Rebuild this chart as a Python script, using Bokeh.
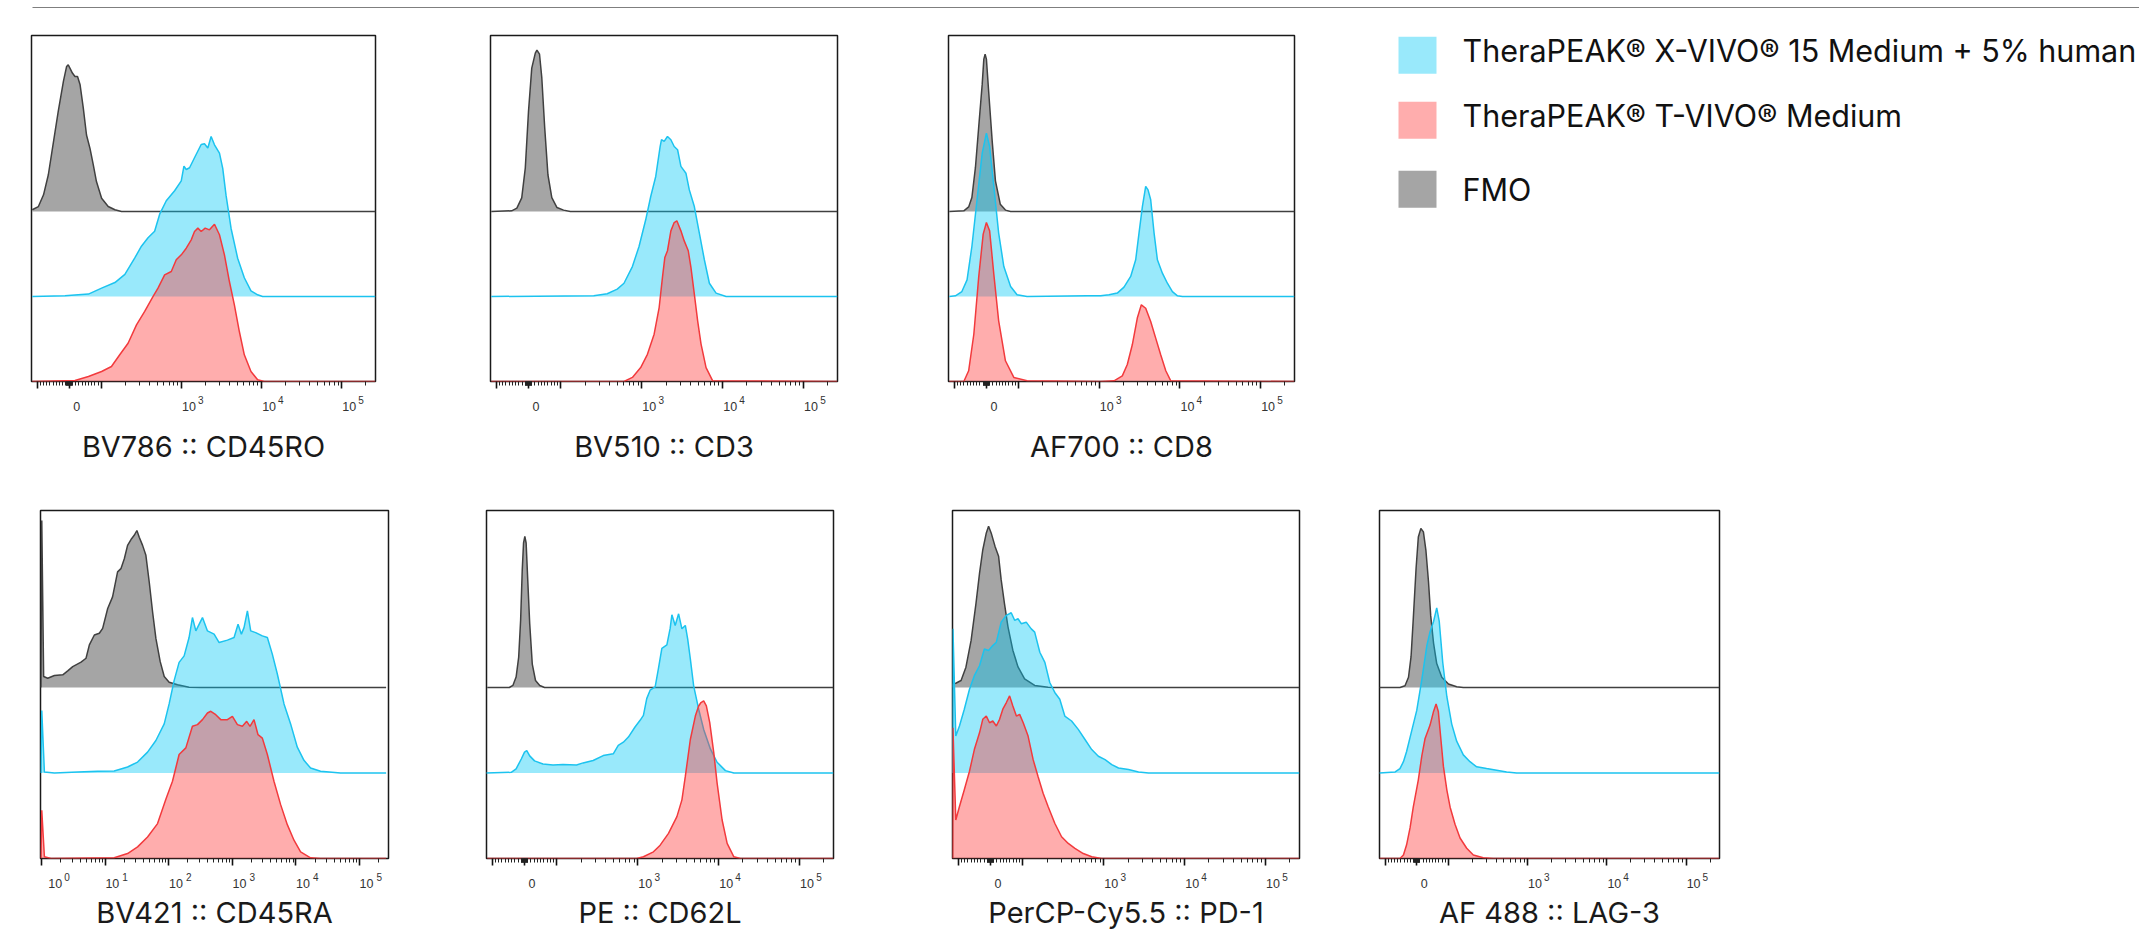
import math
from bokeh.plotting import figure
from bokeh.models import Range1d, LinearAxis, LogAxis, FixedTicker, Spacer, ColumnDataSource
from bokeh.layouts import row, column
from bokeh.embed import file_html
from bokeh.resources import INLINE
from bokeh.core.properties import value

# ---------------------------------------------------------------- data
SERIES_NAMES = ["TheraPEAK® X-VIVO® 15 Medium + 5% human", "TheraPEAK® T-VIVO® Medium", "FMO"]

# BV786 :: CD45RO  (x = fluorescence intensity, y = % of mode)
CD45RO_FMO_X = [-115, -96, -80, -65, -49, -34, -18, -8, -3, 5, 10, 18, 26, 34, 44, 54, 65, 75, 85, 101, 122, 148, 179, 262143]
CD45RO_FMO_Y = [1, 2.9, 9.8, 21.6, 41, 59, 76.5, 85.3, 86.3, 83.3, 81.4, 79.4, 79.4, 74.5, 60.8, 45, 37, 27.5, 17.6, 7.8, 2.9, 1, 0, 0]
CD45RO_XV_X = [-115, -13, 28, 60, 101, 148, 197, 262, 317, 383, 463, 535, 647, 822, 995, 1074, 1148, 1262, 1455, 1762, 1936, 2133, 2344, 2582, 2979, 3273, 3597, 4159, 5023, 6081, 7362, 8913, 10280, 262143]
CD45RO_XV_Y = [0, 0.4, 1, 1.4, 4.9, 8.2, 13, 22.7, 29.6, 34.5, 38.4, 48.4, 56.3, 62.2, 68, 76.7, 74.7, 75.7, 81.6, 89.4, 89.8, 87.3, 94.1, 89.2, 84.3, 75.3, 59.6, 40, 22.5, 11, 3.3, 1, 0, 0]
CD45RO_TV_X = [-115, 18, 60, 101, 134, 170, 216, 275, 348, 443, 510, 617, 747, 861, 995, 1148, 1324, 1455, 1603, 1762, 1977, 2234, 2582, 2979, 3436, 3963, 4571, 5272, 6081, 7362, 8913, 10790, 262143]
CD45RO_TV_Y = [0, 0.6, 2.9, 5.9, 8.8, 15.7, 22.5, 33.3, 41.2, 50, 54.9, 62.7, 64.7, 71.6, 74.5, 78.4, 83.3, 88.2, 90.2, 88.2, 90.2, 89.2, 92.5, 86.3, 74.5, 58.8, 45.1, 29.4, 15.7, 5.9, 1, 0, 0]

# BV510 :: CD3
CD3_FMO_X = [-115, -52, -36, -21, -10, 0, 10, 21, 26, 34, 41, 50, 60, 72, 88, 108, 131, 262143]
CD3_FMO_Y = [0, 0.4, 2, 8, 25.5, 59, 84.3, 93.1, 94.9, 92.5, 78.8, 49.4, 21.6, 8.2, 2.3, 0.8, 0, 0]
CD3_XV_X = [-115, 255, 374, 498, 603, 766, 925, 1119, 1291, 1489, 1687, 1754, 1892, 2080, 2291, 2518, 2773, 3048, 3516, 3873, 4467, 5152, 5943, 6855, 8299, 11040, 262143]
CD3_XV_Y = [0, 0.4, 1.6, 4.3, 7.8, 17.6, 29.4, 45.1, 58.8, 70.6, 88.2, 92.2, 91.2, 94.1, 92.2, 88.2, 86.3, 76.5, 72.5, 62.7, 52.9, 37.3, 21.6, 7.8, 2, 0, 0]
CD3_TV_X = [-115, 603, 766, 970, 1175, 1422, 1641, 1803, 1928, 2080, 2291, 2518, 2716, 3048, 3350, 3758, 4055, 4467, 4909, 5408, 6237, 7534, 262143]
CD3_TV_Y = [0, 0, 2.4, 8.2, 16, 27.8, 43.5, 61.2, 72.9, 76.9, 88.6, 93.5, 94.5, 88.6, 82.7, 76.9, 67.1, 51.4, 35.7, 22, 8.2, 0.4, 0]

# AF700 :: CD8
CD8_FMO_X = [-115, -70, -55, -45, -34, -24, -13, -8, -4, 0, 7, 18, 28, 43, 59, 75, 262143]
CD8_FMO_Y = [0, 0.4, 2.7, 8.2, 25.9, 49.4, 74.9, 89.6, 92.5, 89.6, 70.6, 41.2, 18, 4.3, 0.8, 0, 0]
CD8_XV_X = [-115, -96, -76, -60, -45, -29, -13, 0, 10, 23, 38, 54, 75, 95, 127, 708, 1038, 1318, 1671, 2023, 2449, 2825, 3105, 3420, 3758, 4018, 4335, 4775, 5248, 6053, 6982, 8054, 9311, 10740, 262143]
CD8_XV_Y = [0, 0.4, 2.9, 9.8, 29.4, 56.9, 84.3, 96.1, 88.2, 64.7, 37.3, 17.6, 5.9, 1, 0, 0.4, 0.4, 1, 2, 5.5, 11.8, 21.6, 37.3, 52.9, 64.7, 62.7, 56.9, 37.3, 21.6, 13.7, 7.8, 2.9, 0.4, 0, 0]
CD8_TV_X = [-115, -70, -55, -39, -24, -10, 0, 10, 23, 38, 59, 85, 127, 1038, 1521, 1928, 2223, 2564, 2958, 3319, 3758, 4335, 5000, 5768, 6668, 7691, 262143]
CD8_TV_Y = [0, 0, 6.3, 27.8, 61.2, 86.7, 93.5, 88.6, 63.1, 35.7, 12.2, 2.4, 0.4, 0, 0.4, 3.3, 10, 21.6, 37.3, 45.1, 43.1, 35.3, 25.5, 15.7, 6.3, 0.4, 0]

# BV421 :: CD45RA  (log axis)
CD45RA_FMO_X = [0.97, 1.0, 1.07, 1.24, 1.58, 2.14, 2.56, 3.07, 4.15, 4.97, 5.61, 6.72, 8.05, 9.08, 10.9, 13.0, 15.6, 17.6, 19.9, 22.4, 25.9, 28.5, 31.4, 34.2, 38.6, 43.5, 49.1, 55.4, 62.5, 73.1, 84.5, 101, 137, 208, 318, 262143]
CD45RA_FMO_Y = [0, 97.7, 6.4, 5.4, 7, 7.4, 9.7, 12.2, 14.8, 17.1, 24.9, 30.7, 31.7, 34.6, 46.2, 53, 67.6, 69.5, 75.3, 83.1, 87, 89, 91.8, 87.9, 83.1, 77.3, 61.7, 44.3, 28.7, 15.1, 6.4, 3.1, 1.6, 0.2, 0, 0]
CD45RA_XV_X = [0.97, 1.0, 1.10, 1.58, 3.68, 7.58, 13.8, 22.4, 32.2, 46.2, 62.5, 84.5, 101, 121, 145, 174, 208, 235, 266, 299, 338, 405, 515, 618, 834, 1062, 1227, 1384, 1524, 1722, 1941, 2323, 2958, 3548, 4246, 5093, 6486, 8241, 10500, 13360, 16980, 24380, 50350, 262143]
CD45RA_XV_Y = [0, 36.5, 0.6, 0, 0.6, 1, 1.2, 3.5, 6.4, 12.2, 19, 28.7, 40.4, 54, 64.7, 68.5, 79.2, 90.9, 83.1, 86.9, 90.9, 83.1, 81.2, 76.3, 77.7, 79.2, 87, 81.2, 85, 94.8, 83.1, 82.1, 80.2, 79.2, 69.5, 57.9, 40.4, 28.7, 15.1, 7.4, 2.9, 1, 0, 0]
CD45RA_TV_X = [0.97, 1.0, 1.10, 1.40, 13.8, 22.4, 32.2, 46.2, 66.4, 89.7, 114, 145, 185, 235, 282, 338, 405, 457, 547, 656, 834, 1000, 1199, 1436, 1679, 1892, 2188, 2529, 2958, 3548, 4508, 5741, 7311, 9311, 11830, 16980, 24380, 262143]
CD45RA_TV_Y = [0, 28.2, 1, 0, 0.4, 2.9, 6.8, 12.6, 20.4, 34.6, 45.2, 60.8, 64.7, 77.3, 78.3, 81.2, 85.1, 86.1, 84.1, 81.2, 81.2, 83.1, 78.3, 77.3, 80.2, 77.3, 81.2, 72.4, 70.4, 60.8, 45.2, 31.5, 19.8, 10.7, 3.9, 0.4, 0, 0]

# PE :: CD62L
CD62L_FMO_X = [-115, -47, -36, -26, -18, -12, -7, -3, 1, 5, 10, 16, 24, 34, 47, 62, 262143]
CD62L_FMO_Y = [0, 0, 1.2, 6.1, 17.8, 39.4, 68.8, 84.5, 88.4, 84.5, 62.9, 37.5, 13.7, 4.1, 1.2, 0, 0]
CD62L_XV_X = [-119, -41, -26, -10, 0, 7, 16, 31, 57, 88, 119, 175, 211, 281, 374, 498, 574, 664, 766, 925, 1069, 1175, 1291, 1422, 1641, 1803, 1986, 2291, 2518, 2642, 2904, 3199, 3516, 3873, 4140, 4467, 4909, 5662, 6531, 7907, 9572, 12130, 15420, 262143]
CD62L_XV_Y = [0, 0.4, 2.4, 8.2, 12.2, 13.1, 10, 7.1, 5.3, 4.7, 4.9, 4.7, 5.9, 7.3, 10.2, 11.2, 16.1, 18, 21, 26.9, 30.8, 33.7, 43.5, 48.4, 50.4, 61.2, 72.9, 74.9, 84.7, 92.5, 86.3, 93.1, 84.3, 86.3, 78.4, 66.7, 51, 37.3, 25.5, 14.1, 6.3, 1.4, 0, 0]
CD62L_TV_X = [-115, 970, 1175, 1563, 1892, 2399, 3048, 3516, 3873, 4467, 5152, 5662, 6053, 6531, 7047, 7762, 8710, 9572, 11040, 12740, 15420, 18660, 262143]
CD62L_TV_Y = [0, 0, 1, 3.9, 7.8, 14.7, 24.5, 34.3, 48, 69.6, 83.3, 89.2, 91.2, 92.2, 89.2, 79.4, 61.8, 44.1, 22.5, 8.8, 1, 0, 0]

# PerCP-Cy5.5 :: PD-1
PD1_FMO_X = [-117, -107, -91, -76, -60, -45, -34, -24, -13, -6, 2, 14, 25, 33, 43, 54, 69, 85, 105, 140, 205, 248, 262143]
PD1_FMO_Y = [2.2, 2.5, 4.1, 11.9, 27.5, 49, 66.7, 80.4, 90.4, 94.3, 90.4, 82.5, 76.7, 62.9, 49.2, 35.5, 21.8, 12, 5.1, 1.2, 0.2, 0, 0]
PD1_XV_X = [-117, -116, -107, -96, -81, -65, -50, -34, -19, -6, 7, 18, 33, 49, 64, 75, 85, 95, 110, 127, 140, 162, 187, 215, 248, 286, 330, 400, 484, 586, 710, 857, 1038, 1256, 1521, 2023, 2692, 3581, 262143]
PD1_XV_Y = [0, 84.3, 21.6, 27.5, 37.3, 49, 56.9, 62.7, 72.5, 71.6, 74.5, 76.5, 88.2, 92.2, 93.7, 89.2, 90.2, 87.3, 88.2, 84.3, 82.4, 70.6, 64.7, 52.9, 47.1, 43.1, 33.3, 30.4, 25.5, 19.6, 13.7, 9.8, 7.8, 4.9, 2.9, 2, 0.6, 0, 0]
PD1_TV_X = [-117, -116, -107, -96, -81, -65, -50, -34, -24, -13, -3, 7, 18, 28, 38, 49, 59, 69, 80, 90, 101, 116, 134, 154, 178, 205, 248, 301, 364, 440, 558, 710, 944, 262143]
PD1_TV_Y = [0, 76.5, 22.5, 30.4, 40.2, 51, 63.7, 73.5, 81.4, 83.3, 79.4, 80.4, 77.5, 81.4, 87.3, 91.2, 95.1, 89.2, 83.3, 84.3, 79.4, 71.6, 57.8, 48, 38.2, 30.4, 20.6, 12.7, 8.8, 5.9, 2.9, 1, 0, 0]

# AF 488 :: LAG-3
LAG3_FMO_X = [-118, -53, -37, -26, -18, -11, -2, 5, 13, 21, 29, 37, 44, 53, 63, 79, 100, 127, 154, 262143]
LAG3_FMO_Y = [0, 0, 1, 6, 18, 40, 70, 88, 93, 91, 80, 62, 42, 26, 14, 6, 2, 0.4, 0, 0]
LAG3_XV_X = [-118, -68, -53, -42, -32, -16, 0, 16, 32, 42, 53, 63, 71, 82, 95, 110, 127, 154, 187, 227, 303, 406, 542, 726, 262143]
LAG3_XV_Y = [0, 0.6, 2.6, 6.6, 12.6, 24.6, 36.6, 54.6, 74.6, 82.6, 88.6, 96.6, 88.6, 64.6, 44.6, 28.6, 18.6, 10.6, 6.6, 3.6, 2.6, 1.6, 0.6, 0, 0]
LAG3_TV_X = [-118, -53, -42, -32, -21, -11, 5, 16, 26, 42, 53, 61, 68, 76, 84, 95, 105, 121, 140, 170, 206, 275, 368, 262143]
LAG3_TV_Y = [0, 0, 2, 8, 18, 30, 46, 60, 70, 78, 86, 90.4, 86, 70, 54, 40, 30, 20, 12, 6, 2, 0.4, 0, 0]

# axis ticks and their labels (base text + superscript exponent)
BIEX_MAJOR = [-100, 0, 100, 1000, 10000, 100000]
BIEX_BASE = {0: "0", 1000: "10", 10000: "10", 100000: "10"}
BIEX_SUP = {1000: "3", 10000: "4", 100000: "5"}
LOG_MAJOR = [1, 10, 100, 1000, 10000, 100000]
LOG_BASE = {1: "10", 10: "10", 100: "10", 1000: "10", 10000: "10", 100000: "10"}
LOG_SUP = {1: "0", 10: "1", 100: "2", 1000: "3", 10000: "4", 100000: "5"}

# ---------------------------------------------------------------- styles
FILL = {"xv": ("#00c8f5", 0.40), "tv": ("#ff3739", 0.41), "fmo": ("#a5a5a5", 1.0)}
LINE = {"xv": "#1cc3ef", "tv": "#f23a3d", "fmo": "#404040"}
OFFSET = {"fmo": 100, "xv": 50, "tv": 0}
TITLE_FONT = "Inter"
TICK_FONT = "Liberation Sans"


def biex(v):
    if abs(v) <= 100:
        return 0.004 * v
    return math.copysign(0.4 + math.log10(abs(v) / 100.0), v)


def make_panel(title, scale, series, geom):
    width, height, left, right, top, bottom, title_standoff = geom
    if scale == "log":
        p = figure(width=width, height=height, x_axis_type="log",
                   x_range=Range1d(0.955, 2.86e5), y_range=Range1d(0, 203.5),
                   x_axis_location=None, y_axis_location=None,
                   toolbar_location=None, output_backend="svg")
        tf = lambda v: v
    else:
        p = figure(width=width, height=height,
                   x_range=Range1d(-0.47, 3.82), y_range=Range1d(0, 203.5),
                   x_axis_location=None, y_axis_location=None,
                   toolbar_location=None, output_backend="svg")
        tf = biex
    p.min_border_left = left
    p.min_border_right = right
    p.min_border_top = top
    p.min_border_bottom = bottom
    p.outline_line_color = "#1a1a1a"
    p.outline_line_width = 1.5
    p.background_fill_color = "white"
    p.border_fill_color = "white"
    p.xgrid.visible = False
    p.ygrid.visible = False

    for key in ("fmo", "xv", "tv"):
        xs, ys = series[key]
        base = OFFSET[key]
        src = ColumnDataSource(dict(x=[tf(v) for v in xs], top=[base + h for h in ys]))
        fc, fa = FILL[key]
        p.varea(x="x", y1=base, y2="top", source=src, fill_color=fc, fill_alpha=fa)
        p.line(x="x", y="top", source=src, line_color=LINE[key], line_width=1.5)

    if scale == "log":
        major = LOG_MAJOR
        minor = [k * 10 ** n for n in range(0, 5) for k in range(2, 10)] + [200000]
        base_pos = {round(v * (1.63 if v == 1 else 1.29), 4): s for v, s in LOG_BASE.items()}
        sup_pos = {round(v * (2.5 if v == 1 else 2.05), 4): s for v, s in LOG_SUP.items()}
        AxisCls = LogAxis
    else:
        major = [biex(v) for v in BIEX_MAJOR]
        mv = ([-k * 10 for k in range(9, 0, -1)] + [-k for k in range(9, 0, -1)] +
              list(range(1, 10)) + [k * 10 for k in range(1, 10)] +
              [k * 100 for k in range(2, 10)] + [k * 1000 for k in range(2, 10)] +
              [k * 10000 for k in range(2, 10)] + [200000])
        minor = [biex(v) for v in mv]
        base_pos = {round(biex(v) + 0.093, 4): s for v, s in BIEX_BASE.items()}
        sup_pos = {round(biex(v) + 0.24, 4): s for v, s in BIEX_SUP.items()}
        AxisCls = LinearAxis

    # 1) tick marks only
    tick_axis = AxisCls(ticker=FixedTicker(ticks=major, minor_ticks=minor),
                        major_tick_out=7, major_tick_in=0, minor_tick_out=4, minor_tick_in=0,
                        major_tick_line_width=1.6, major_tick_line_color="#111111",
                        minor_tick_line_width=1, minor_tick_line_color="#222222",
                        axis_line_color=None, major_label_text_font_size="0px",
                        major_label_text_color=None, major_label_standoff=0)
    p.add_layout(tick_axis, "below")

    # 2) exponents (sit above the "10" bases)
    sup_axis = AxisCls(ticker=FixedTicker(ticks=list(sup_pos.keys()), minor_ticks=[]),
                       major_tick_out=0, major_tick_in=0, major_tick_line_color=None,
                       minor_tick_line_color=None, axis_line_color=None,
                       major_label_overrides=sup_pos, major_label_standoff=7,
                       major_label_text_font=TICK_FONT, major_label_text_font_size="10px",
                       major_label_text_color="#333333")
    p.add_layout(sup_axis, "below")

    # 3) bases and the panel title
    base_axis = AxisCls(ticker=FixedTicker(ticks=list(base_pos.keys()), minor_ticks=[]),
                        major_tick_out=0, major_tick_in=0, major_tick_line_color=None,
                        minor_tick_line_color=None, axis_line_color=None,
                        major_label_overrides=base_pos, major_label_standoff=-5,
                        major_label_text_font=TICK_FONT, major_label_text_font_size="12.5px",
                        major_label_text_color="#333333",
                        axis_label=title, axis_label_standoff=title_standoff,
                        axis_label_text_font=TITLE_FONT, axis_label_text_font_size="29px",
                        axis_label_text_font_style="normal", axis_label_text_color="#1a1a1a")
    p.add_layout(base_axis, "below")
    return p


# figure geometry: width, height, border left/right/top/bottom, title standoff
PANELS_TOP = [
    ("BV786 :: CD45RO", "biex", {"fmo": (CD45RO_FMO_X, CD45RO_FMO_Y), "xv": (CD45RO_XV_X, CD45RO_XV_Y), "tv": (CD45RO_TV_X, CD45RO_TV_Y)},
     (430, 462, 31, 55, 27, 89, 15)),
    ("BV510 :: CD3", "biex", {"fmo": (CD3_FMO_X, CD3_FMO_Y), "xv": (CD3_XV_X, CD3_XV_Y), "tv": (CD3_TV_X, CD3_TV_Y)},
     (460, 462, 60, 53, 27, 89, 15)),
    ("AF700 :: CD8", "biex", {"fmo": (CD8_FMO_X, CD8_FMO_Y), "xv": (CD8_XV_X, CD8_XV_Y), "tv": (CD8_TV_X, CD8_TV_Y)},
     (460, 462, 58, 56, 27, 89, 15)),
]
PANELS_BOTTOM = [
    ("BV421 :: CD45RA", "log", {"fmo": (CD45RA_FMO_X, CD45RA_FMO_Y), "xv": (CD45RA_XV_X, CD45RA_XV_Y), "tv": (CD45RA_TV_X, CD45RA_TV_Y)},
     (437, 463, 40, 49, 40, 75, 4)),
    ("PE :: CD62L", "biex", {"fmo": (CD62L_FMO_X, CD62L_FMO_Y), "xv": (CD62L_XV_X, CD62L_XV_Y), "tv": (CD62L_TV_X, CD62L_TV_Y)},
     (463, 463, 49, 67, 40, 75, 4)),
    ("PerCP-Cy5.5 :: PD-1", "biex", {"fmo": (PD1_FMO_X, PD1_FMO_Y), "xv": (PD1_XV_X, PD1_XV_Y), "tv": (PD1_TV_X, PD1_TV_Y)},
     (440, 463, 52, 41, 40, 75, 4)),
    ("AF 488 :: LAG-3", "biex", {"fmo": (LAG3_FMO_X, LAG3_FMO_Y), "xv": (LAG3_XV_X, LAG3_XV_Y), "tv": (LAG3_TV_X, LAG3_TV_Y)},
     (799, 463, 39, 420, 40, 75, 4)),
]

top_figs = [make_panel(*a) for a in PANELS_TOP]
bottom_figs = [make_panel(*a) for a in PANELS_BOTTOM]

# ---------------------------------------------------------------- legend
LEG_SQUARE_Y = [46.7, 111.7, 180.8]
LEG_TEXT_Y = [41.5, 106.5, 181.2]
LEG_KEYS = ["xv", "tv", "fmo"]
leg = figure(width=789, height=462, x_range=Range1d(0, 789), y_range=Range1d(373, 27),
             x_axis_location=None, y_axis_location=None, toolbar_location=None,
             output_backend="svg", outline_line_color=None)
leg.min_border_left = 0
leg.min_border_right = 0
leg.min_border_top = 27
leg.min_border_bottom = 89
leg.xgrid.visible = False
leg.ygrid.visible = False
leg.rect(x=[67] * 3, y=LEG_SQUARE_Y, width=38, height=37,
         fill_color=[FILL[k][0] for k in LEG_KEYS], fill_alpha=[FILL[k][1] for k in LEG_KEYS],
         line_color=None)
leg.text(x=[112] * 3, y=LEG_TEXT_Y, text=SERIES_NAMES, text_font=value(TITLE_FONT),
         text_font_size="30.5px", text_baseline="middle", text_align="left", text_color="#111111")

# ---------------------------------------------------------------- top rule (frame = black strip)
rule = figure(width=2107, height=8, x_range=Range1d(0, 1), y_range=Range1d(0, 3),
              x_axis_location=None, y_axis_location=None, toolbar_location=None,
              output_backend="svg", outline_line_color=None,
              background_fill_color="#000000", border_fill_color="white")
rule.min_border_left = 0
rule.min_border_right = 0
rule.min_border_top = 3
rule.min_border_bottom = 2
rule.xgrid.visible = False
rule.ygrid.visible = False

layout = column(row(Spacer(width=32, height=8), rule),
                row(*top_figs, leg),
                row(*bottom_figs))

open("out.html", "w").write(file_html(layout, INLINE))
